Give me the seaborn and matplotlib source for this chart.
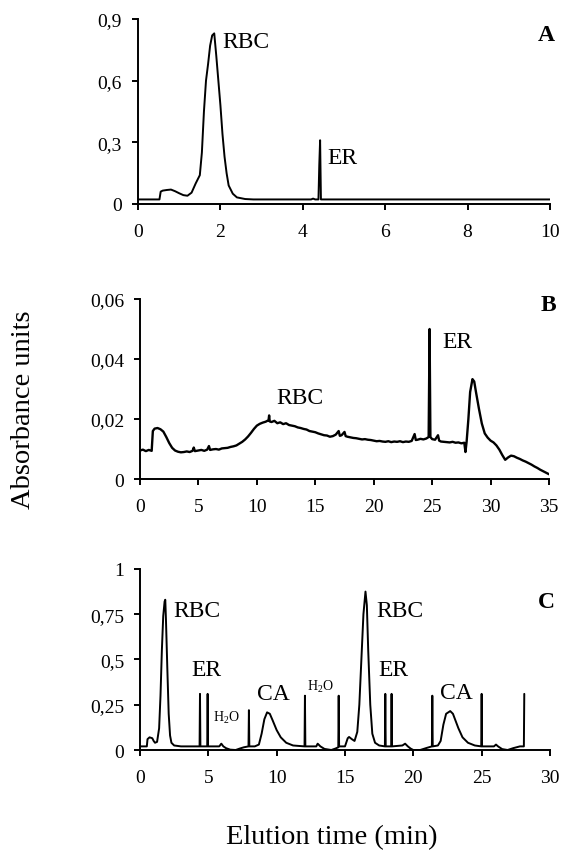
import pandas as pd
import seaborn as sns
import matplotlib.pyplot as plt

# Panel A: single injection, 0-10 min
a_time = [0, 0.52, 0.55, 0.6, 0.7, 0.8, 0.9, 1.0, 1.1, 1.2, 1.3, 1.4, 1.5, 1.55, 1.6, 1.65,
          1.7, 1.75, 1.8, 1.85, 1.9, 1.95, 2.0, 2.05, 2.1, 2.15, 2.2, 2.3, 2.4, 2.6, 2.8,
          4.2, 4.25, 4.3, 4.38, 4.4, 4.42, 4.44, 10]
a_abs = [0.022, 0.022, 0.06, 0.065, 0.068, 0.07, 0.062, 0.052, 0.043, 0.04, 0.055, 0.1, 0.14,
         0.25, 0.45, 0.6, 0.68, 0.77, 0.82, 0.83, 0.72, 0.6, 0.48, 0.34, 0.23, 0.15, 0.09, 0.05,
         0.032, 0.024, 0.022, 0.022, 0.026, 0.022, 0.022, 0.19, 0.31, 0.022, 0.022]

# Panel B: 0-35 min, low absorbance
b_time = [0.0, 0.25, 0.5, 0.75, 1.0, 1.1, 1.25, 1.5, 1.75, 2.0, 2.25, 2.5, 2.75, 3.0, 3.25,
          3.5, 3.75, 4.0, 4.25, 4.5, 4.6, 4.7, 5.0, 5.25, 5.5, 5.75, 5.9, 6.0, 6.25, 6.5, 6.75,
          7.0, 7.25, 7.5, 7.75, 8.0, 8.25, 8.5, 8.75, 9.0, 9.25, 9.5, 9.75, 10.0, 10.25, 10.5,
          10.75, 11.0, 11.05, 11.1, 11.25, 11.5, 11.75, 12.0, 12.25, 12.5, 12.75, 13.0, 13.25,
          13.5, 13.75, 14.0, 14.25, 14.5, 14.75, 15.0, 15.25, 15.5, 15.75, 16.0, 16.25, 16.5,
          16.75, 17.0, 17.1, 17.25, 17.5, 17.6, 17.75, 18.0, 18.25, 18.5, 18.75, 19.0, 19.25,
          19.5, 19.75, 20.0, 20.25, 20.5, 20.75, 21.0, 21.25, 21.5, 21.75, 22.0, 22.25, 22.5,
          22.75, 23.0, 23.25, 23.5, 23.6, 23.75, 24.0, 24.25, 24.5, 24.7, 24.78, 24.85, 25.0,
          25.25, 25.5, 25.6, 25.75, 26.0, 26.25, 26.5, 26.75, 27.0, 27.25, 27.5, 27.75, 27.85,
          27.95, 28.1, 28.25, 28.45, 28.6, 28.75, 29.0, 29.25, 29.5, 29.75, 30.0, 30.25, 30.5,
          30.75, 31.0, 31.25, 31.5, 31.75, 32.0, 32.25, 32.5, 32.75, 33.0, 33.25, 33.5, 33.75,
          34.0, 34.25, 34.5, 34.75, 35.0]
b_abs = [0.0095, 0.0098, 0.0093, 0.0097, 0.0094, 0.0160, 0.0168, 0.0170, 0.0166, 0.0158,
         0.0140, 0.0120, 0.0104, 0.0095, 0.0091, 0.0089, 0.0090, 0.0092, 0.0090, 0.0094,
         0.0105, 0.0093, 0.0095, 0.0097, 0.0094, 0.0098, 0.0110, 0.0097, 0.0099, 0.0100,
         0.0098, 0.0102, 0.0103, 0.0104, 0.0107, 0.0109, 0.0112, 0.0118, 0.0124, 0.0132,
         0.0142, 0.0154, 0.0167, 0.0178, 0.0184, 0.0188, 0.0191, 0.0196, 0.0212, 0.0192,
         0.0190, 0.0194, 0.0186, 0.0189, 0.0183, 0.0186, 0.0180, 0.0178, 0.0176, 0.0172,
         0.0170, 0.0167, 0.0165, 0.0160, 0.0158, 0.0156, 0.0152, 0.0149, 0.0146, 0.0145,
         0.0141, 0.0143, 0.0148, 0.0160, 0.0144, 0.0146, 0.0157, 0.0143, 0.0141, 0.0139,
         0.0137, 0.0136, 0.0134, 0.0132, 0.0133, 0.0131, 0.0130, 0.0128, 0.0126, 0.0127,
         0.0125, 0.0124, 0.0126, 0.0123, 0.0125, 0.0124, 0.0126, 0.0123, 0.0125, 0.0124,
         0.0127, 0.0150, 0.0130, 0.0131, 0.0134, 0.0132, 0.0135, 0.0140, 0.0500, 0.0140,
         0.0133, 0.0131, 0.0146, 0.0128, 0.0125, 0.0124, 0.0123, 0.0122, 0.0124, 0.0121,
         0.0122, 0.0119, 0.0121, 0.0090, 0.0125, 0.0200, 0.0290, 0.0333, 0.0325, 0.0290,
         0.0235, 0.0185, 0.0152, 0.0138, 0.0128, 0.0122, 0.0112, 0.0098, 0.0080, 0.0064,
         0.0072, 0.0078, 0.0076, 0.0071, 0.0067, 0.0062, 0.0058, 0.0053, 0.0048, 0.0042,
         0.0037, 0.0031, 0.0026, 0.0021, 0.0016]

# Panel C: repeated injections, 0-30 min
c_time = [0, 0.5, 0.55, 0.7, 0.9, 1.0, 1.1, 1.25, 1.4, 1.5, 1.6, 1.7, 1.8, 1.85, 1.9, 2.0,
          2.1, 2.2, 2.3, 2.5, 3.0, 4.36, 4.39, 4.42, 4.92, 4.95, 4.98, 5.8, 5.95, 6.1, 6.3,
          6.6, 7.0, 7.3, 7.6, 7.94, 7.97, 8.0, 8.4, 8.7, 8.9, 9.1, 9.3, 9.5, 9.7, 10.0, 10.3,
          10.7, 11.2, 12.04, 12.07, 12.1, 12.9, 13.0, 13.2, 13.5, 14.0, 14.3, 14.51, 14.54,
          14.57, 15.0, 15.2, 15.3, 15.5, 15.7, 15.9, 16.05, 16.2, 16.35, 16.5, 16.6, 16.7,
          16.85, 17.0, 17.2, 17.5, 17.92, 17.95, 17.98, 18.38, 18.41, 18.44, 19.2, 19.4, 19.6,
          19.8, 20.0, 20.5, 21.0, 21.36, 21.39, 21.42, 21.8, 22.0, 22.2, 22.4, 22.7, 22.9,
          23.1, 23.3, 23.6, 24.0, 24.5, 24.97, 25.0, 25.03, 25.9, 26.05, 26.2, 26.5, 26.9,
          27.3, 27.8, 28.09, 28.12]
c_abs = [0.02, 0.02, 0.06, 0.07, 0.065, 0.05, 0.04, 0.045, 0.12, 0.3, 0.55, 0.74, 0.82, 0.83,
         0.72, 0.45, 0.2, 0.08, 0.04, 0.025, 0.02, 0.02, 0.31, 0.02, 0.02, 0.31, 0.02, 0.02,
         0.035, 0.02, 0.01, 0.002, 0.0, 0.008, 0.015, 0.02, 0.22, 0.02, 0.02, 0.03, 0.09,
         0.17, 0.208, 0.2, 0.165, 0.11, 0.07, 0.04, 0.025, 0.02, 0.30, 0.02, 0.02, 0.035,
         0.02, 0.006, 0.0, 0.008, 0.015, 0.30, 0.02, 0.02, 0.065, 0.072, 0.06, 0.05, 0.1,
         0.25, 0.5, 0.75, 0.875, 0.8, 0.55, 0.25, 0.09, 0.04, 0.025, 0.02, 0.31, 0.02, 0.02,
         0.31, 0.02, 0.025, 0.035, 0.02, 0.008, 0.0, 0.0, 0.012, 0.02, 0.30, 0.02, 0.025,
         0.05, 0.14, 0.2, 0.215, 0.2, 0.16, 0.12, 0.07, 0.04, 0.025, 0.02, 0.31, 0.02, 0.02,
         0.03, 0.02, 0.005, 0.0, 0.01, 0.02, 0.02, 0.31]

a_xticks = [0, 2, 4, 6, 8, 10]
a_yticks = [0, 0.3, 0.6, 0.9]
a_yticklabels = ["0", "0,3", "0,6", "0,9"]
b_xticks = [0, 5, 10, 15, 20, 25, 30, 35]
b_yticks = [0, 0.02, 0.04, 0.06]
b_yticklabels = ["0", "0,02", "0,04", "0,06"]
c_xticks = [0, 5, 10, 15, 20, 25, 30]
c_yticks = [0, 0.25, 0.5, 0.75, 1]
c_yticklabels = ["0", "0,25", "0,5", "0,75", "1"]

sns.set_style("ticks")
plt.rcParams['font.family'] = ['Liberation Serif', 'DejaVu Serif']
plt.rcParams['mathtext.fontset'] = 'custom'
plt.rcParams['mathtext.rm'] = 'Liberation Serif'
plt.rcParams['mathtext.it'] = 'Liberation Serif:italic'
plt.rcParams['text.color'] = 'black'
plt.rcParams['axes.labelcolor'] = 'black'
plt.rcParams['xtick.color'] = 'black'
plt.rcParams['ytick.color'] = 'black'

fig = plt.figure(figsize=(5.62, 8.54), dpi=100)
ax_a = fig.add_axes([0.2456, 0.760, 0.733, 0.2166])
ax_b = fig.add_axes([0.2491, 0.4379, 0.7278, 0.2108])
ax_c = fig.add_axes([0.2491, 0.1206, 0.7295, 0.2120])

panels = [
    (ax_a, a_time, a_abs, a_xticks, a_yticks, a_yticklabels, 1.4),
    (ax_b, b_time, b_abs, b_xticks, b_yticks, b_yticklabels, 1.7),
    (ax_c, c_time, c_abs, c_xticks, c_yticks, c_yticklabels, 1.4),
]

for ax, t, y, xt, yt, ytl, lw in panels:
    df = pd.DataFrame({"time": t, "abs": y})
    sns.lineplot(data=df, x="time", y="abs", ax=ax, color="black", linewidth=lw,
                 sort=False, estimator=None)
    ax.set_xlim(xt[0], xt[-1])
    ax.set_ylim(yt[0], yt[-1])
    ax.set_xticks(xt)
    ax.set_yticks(yt)
    ax.set_yticklabels(ytl)
    ax.set_xlabel("")
    ax.set_ylabel("")
    sns.despine(ax=ax)
    for side in ["left", "bottom"]:
        ax.spines[side].set_linewidth(1.4)
        ax.spines[side].set_color("black")
    ax.tick_params(axis="both", direction="out", length=4.5, width=1.4, colors="black",
                   labelsize=14, labelcolor="black")
    ax.tick_params(axis="y", pad=7)
    ax.tick_params(axis="x", pad=9)

# annotations
ax_a.text(2.05, 0.79, "RBC", fontsize=17, va="center", ha="left")
ax_a.text(4.6, 0.227, "ER", fontsize=17, va="center", ha="left")
ax_a.text(10.12, 0.823, "A", fontsize=17, fontweight="bold", va="center", ha="right")

ax_b.text(13.7, 0.0272, "RBC", fontsize=17, va="center", ha="center")
ax_b.text(25.9, 0.046, "ER", fontsize=17, va="center", ha="left")
ax_b.text(35.6, 0.0582, "B", fontsize=17, fontweight="bold", va="center", ha="right")

ax_c.text(2.44, 0.77, "RBC", fontsize=17, va="center", ha="left")
ax_c.text(3.78, 0.447, "ER", fontsize=17, va="center", ha="left")
ax_c.text(5.37, 0.18, r"H$_{\mathrm{2}}$O", fontsize=10, va="center", ha="left")
ax_c.text(8.54, 0.31, "CA", fontsize=17, va="center", ha="left")
ax_c.text(12.24, 0.355, r"H$_{\mathrm{2}}$O", fontsize=10, va="center", ha="left")
ax_c.text(17.32, 0.77, "RBC", fontsize=17, va="center", ha="left")
ax_c.text(17.44, 0.447, "ER", fontsize=17, va="center", ha="left")
ax_c.text(21.95, 0.318, "CA", fontsize=17, va="center", ha="left")
ax_c.text(30.37, 0.818, "C", fontsize=17, fontweight="bold", va="center", ha="right")

fig.text(0.041, 0.52, "Absorbance units", rotation=90, fontsize=20.5, va="center", ha="center")
fig.text(0.591, 0.019, "Elution time (min)", fontsize=20.5, va="center", ha="center")

fig.savefig("out.png", dpi=100)
